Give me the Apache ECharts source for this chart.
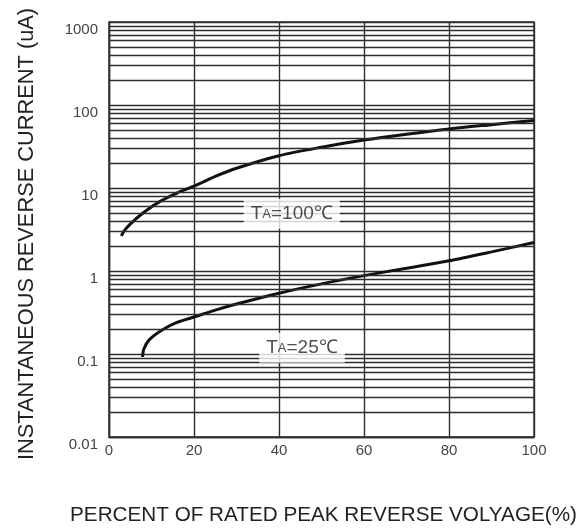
<!DOCTYPE html>
<html><head><meta charset="utf-8">
<script src="https://cdn.jsdelivr.net/npm/echarts@6/dist/echarts.min.js"></script>
<style>html,body{margin:0;padding:0;background:#fff}#c{width:578px;height:531px}</style>
</head><body><div id="c"></div>
<script>
// ---- data ----
const xTickLabels = ['0','20','40','60','80','100'];
const yTickValues = [0.01, 0.1, 1, 10, 100, 1000];
const yTickLabels = ['0.01','0.1','1','10','100','1000'];

const x100 = [2.9, 3.5, 4.8, 8, 12, 16, 20, 25, 30, 40, 50, 60, 70, 80, 90, 100];
const y100 = [2.65, 3.0, 3.6, 5.0, 6.9, 8.7, 10.5, 13.8, 17.3, 24.5, 31, 37.8, 44.5, 51.5, 58, 65];

const x25 = [7.9, 8.2, 9.5, 12.6, 16, 20, 25, 30, 40, 50, 60, 70, 80, 90, 100];
const y25 = [0.092, 0.115, 0.149, 0.196, 0.24, 0.279, 0.338, 0.40, 0.54, 0.70, 0.88, 1.08, 1.33, 1.7, 2.2];

const labelX = [43, 45.4];
const labelY = [4.9, 0.119];
const labelTemp = ['=100℃', '=25℃'];

const xTitle = 'PERCENT OF RATED PEAK REVERSE VOLYAGE(%)';
const yTitle = 'INSTANTANEOUS REVERSE CURRENT (uA)';

// ---- build ----
const FONT = "'Liberation Sans', Arial, sans-serif";
const minorValues = [];
for (let i = 0; i < yTickValues.length - 1; i++) {
  for (let m = 2; m <= 9; m++) minorValues.push(parseFloat((yTickValues[i] * m).toPrecision(3)));
}
const gridColor = '#2e2e2e';

const chart = echarts.init(document.getElementById('c'), null, {renderer: 'canvas'});
chart.setOption({
  animation: false,
  backgroundColor: '#fff',
  grid: {left: 109, right: 44, top: 22, bottom: 94, show: true, borderColor: gridColor, borderWidth: 1.4, backgroundColor: 'transparent'},
  xAxis: {
    type: 'value', min: 0, max: 100, interval: 20,
    axisLine: {show: true, lineStyle: {color: gridColor, width: 1.4}},
    axisTick: {show: false},
    splitLine: {show: true, lineStyle: {color: gridColor, width: 1.4}},
    axisLabel: {margin: 6, fontSize: 15, fontFamily: FONT, color: '#444',
      formatter: v => xTickLabels[Math.round(v / 20)]}
  },
  yAxis: {
    type: 'log', logBase: 10, min: 0.01, max: 1000,
    axisLine: {show: true, lineStyle: {color: gridColor, width: 1.4}},
    axisTick: {show: false},
    splitLine: {show: true, lineStyle: {color: gridColor, width: 1.4}},
    axisLabel: {margin: 11, fontSize: 15, fontFamily: FONT, color: '#444', verticalAlign: 'top',
      formatter: v => { const i = yTickValues.findIndex(t => Math.abs(Math.log10(t) - Math.log10(v)) < 1e-6); return i >= 0 ? yTickLabels[i] : ''; }}
  },
  graphic: [
    {type: 'text', x: 323.5, y: 515, silent: true,
      style: {text: xTitle, fontSize: 20.7, fontFamily: FONT, fill: '#222', align: 'center', verticalAlign: 'middle'}},
    {type: 'text', x: 27, y: 234, rotation: Math.PI / 2, silent: true,
      style: {text: yTitle, fontSize: 21.8, fontFamily: FONT, fill: '#222', align: 'center', verticalAlign: 'middle'}}
  ],
  series: [
    {
      type: 'line', data: [], z: 1, silent: true,
      markLine: {silent: true, symbol: ['none', 'none'], label: {show: false},
        lineStyle: {color: gridColor, width: 1.4, type: 'solid'},
        emphasis: {disabled: true},
        data: minorValues.map(v => ({yAxis: v}))}
    },
    {
      name: 'TA=100℃', type: 'line', z: 3, smooth: 0.3, showSymbol: false, symbol: 'none',
      lineStyle: {color: '#111', width: 3},
      data: x100.map((x, i) => [x, y100[i]])
    },
    {
      name: 'TA=25℃', type: 'line', z: 3, smooth: 0.3, showSymbol: false, symbol: 'none',
      lineStyle: {color: '#111', width: 3},
      data: x25.map((x, i) => [x, y25[i]])
    },
    {
      type: 'scatter', z: 5, symbolSize: 0, silent: true,
      data: labelX.map((x, i) => [x, labelY[i], labelTemp[i]]),
      label: {
        show: true, position: 'inside',
        formatter: p => '{t|T}{s|A}{t|' + p.data[2] + '}',
        backgroundColor: '#fff', padding: [6, 7, 5, 7],
        rich: {
          t: {fontSize: 19, fontFamily: FONT, color: '#222'},
          s: {fontSize: 13, fontFamily: FONT, color: '#222', verticalAlign: 'bottom', padding: [0, 0, 3, 0]}
        }
      }
    }
  ]
});
</script></body></html>
